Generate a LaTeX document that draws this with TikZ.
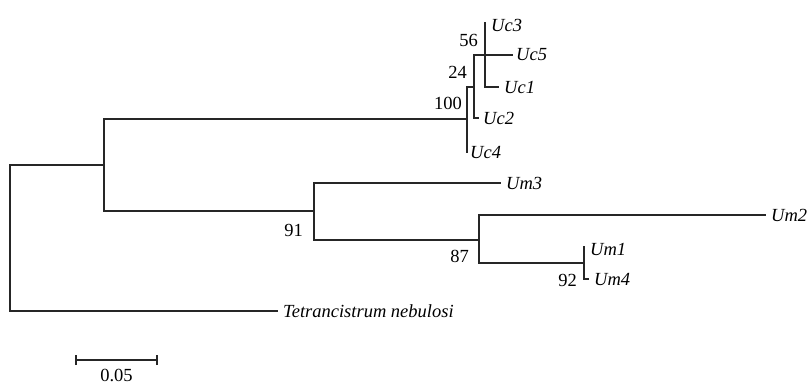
\documentclass[tikz,border=0pt]{standalone}
\usepackage{fontspec}
\setmainfont{Liberation Serif}
\begin{document}
\begin{tikzpicture}[x=1pt,y=-1pt,
  br/.style={line width=1.3pt,line cap=rect,color=black!85},
  leaf/.style={anchor=west,inner sep=0pt,font=\fontsize{18.5}{20}\selectfont\itshape},
  boot/.style={anchor=east,inner sep=0pt,font=\fontsize{18.5}{20}\selectfont}]
\useasboundingbox (0,0) rectangle (812,384);
% internal nodes
\coordinate (R) at (10,238);
\coordinate (A) at (104,165);
\coordinate (N100) at (467,119);
\coordinate (N24) at (474,87);
\coordinate (N56) at (485,55);
\coordinate (N91) at (314,211);
\coordinate (N87) at (479,240);
\coordinate (N92) at (584,263);
% leaves
\coordinate (Tet) at (277,311);
\coordinate (Um3) at (500,183);
\coordinate (Um2) at (765,215);
\coordinate (Um1) at (584,247);
\coordinate (Um4) at (588,279);
\coordinate (Uc3) at (485,23);
\coordinate (Uc5) at (512,55);
\coordinate (Uc1) at (498,87);
\coordinate (Uc2) at (478,118);
\coordinate (Uc4) at (467,152);
% branches
\draw[br] (R) |- (A);
\draw[br] (R) |- (Tet);
\draw[br] (A) |- (N100);
\draw[br] (A) |- (N91);
\draw[br] (N100) |- (N24);
\draw[br] (N100) |- (Uc4);
\draw[br] (N24) |- (N56);
\draw[br] (N24) |- (Uc2);
\draw[br] (N56) |- (Uc3);
\draw[br] (N56) |- (Uc5);
\draw[br] (N56) |- (Uc1);
\draw[br] (N91) |- (Um3);
\draw[br] (N91) |- (N87);
\draw[br] (N87) |- (Um2);
\draw[br] (N87) |- (N92);
\draw[br] (N92) |- (Um1);
\draw[br] (N92) |- (Um4);
% leaf labels
\node[leaf] (tTet) at ([xshift=6pt]Tet) {Tetrancistrum nebulosi};
\node[leaf] (tUm3) at ([xshift=6pt]Um3) {Um3};
\node[leaf] (tUm2) at ([xshift=6pt]Um2) {Um2};
\node[leaf] (tUm1) at ([xshift=6pt,yshift=-2pt]Um1) {Um1};
\node[leaf] (tUm4) at ([xshift=6pt]Um4) {Um4};
\node[leaf] (tUc3) at ([xshift=6pt,yshift=-2pt]Uc3) {Uc3};
\node[leaf] (tUc5) at ([xshift=4pt]Uc5) {Uc5};
\node[leaf] (tUc1) at ([xshift=6pt]Uc1) {Uc1};
\node[leaf] (tUc2) at ([xshift=5pt]Uc2) {Uc2};
\node[leaf] (tUc4) at ([xshift=3pt]Uc4) {Uc4};
% bootstrap values
\node[boot] (b56) at (478,40) {56};
\node[boot] (b24) at (467,72) {24};
\node[boot] (b100) at (462,103) {100};
\node[boot] (b91) at (303,230) {91};
\node[boot] (b87) at (469,256) {87};
\node[boot] (b92) at (577,280) {92};
% scale bar
\coordinate (s1) at (76,360);
\coordinate (s2) at (157,360);
\draw[br,line cap=butt] (s1) -- (s2);
\draw[br,line cap=butt] ([yshift=-5pt]s1) -- ([yshift=5pt]s1);
\draw[br,line cap=butt] ([yshift=-5pt]s2) -- ([yshift=5pt]s2);
\node[inner sep=0pt,font=\fontsize{18.5}{20}\selectfont] (sl) at (116.5,375.5) {0.05};
\end{tikzpicture}
\end{document}
